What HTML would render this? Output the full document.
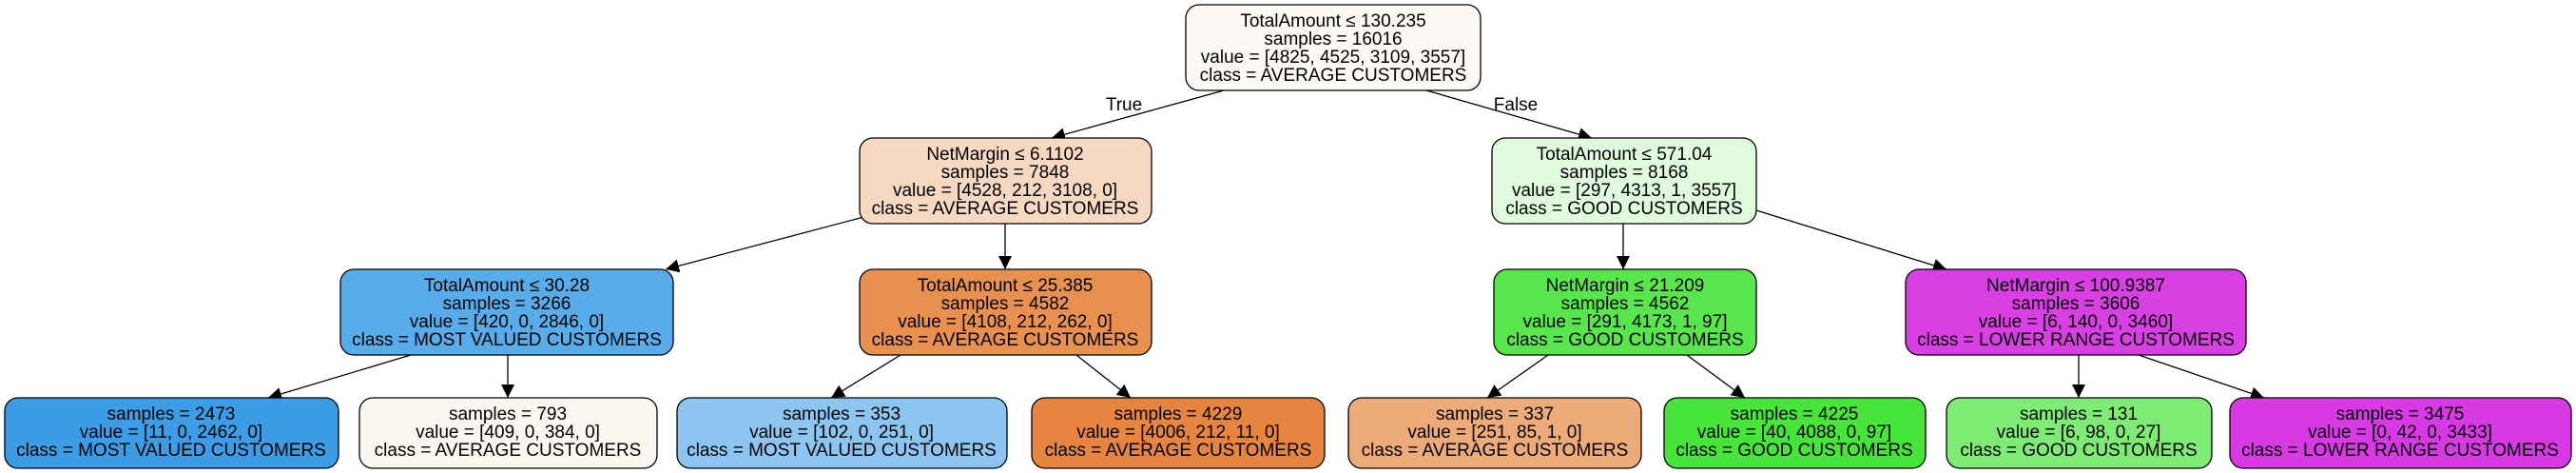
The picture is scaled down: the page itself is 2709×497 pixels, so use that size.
<!DOCTYPE html>
<html><head><meta charset="utf-8"><style>
html,body{margin:0;padding:0;background:#fff}
svg{display:block}
text{font-family:"Liberation Sans",Arial,sans-serif;font-size:19px;fill:#000}
</style></head><body>
<svg width="2709" height="497" viewBox="0 0 2709 497" xmlns="http://www.w3.org/2000/svg">
<defs><marker id="a" viewBox="0 0 10 10" refX="10" refY="5" markerWidth="14" markerHeight="14" markerUnits="userSpaceOnUse" orient="auto"><path d="M0,0 L10,5 L0,10 z" fill="#000"/></marker></defs>
<g stroke="#000" stroke-width="1.3" fill="none" marker-end="url(#a)">
<line x1="1287" y1="95" x2="1106" y2="145"/>
<line x1="1500" y1="95" x2="1674" y2="145"/>
<line x1="916" y1="226" x2="700" y2="283"/>
<line x1="1057" y1="235" x2="1057" y2="283"/>
<line x1="1707" y1="235" x2="1707" y2="283"/>
<line x1="1847" y1="221" x2="2047" y2="283"/>
<line x1="432" y1="373" x2="282" y2="418"/>
<line x1="534" y1="373" x2="534" y2="418"/>
<line x1="947" y1="373" x2="874" y2="418"/>
<line x1="1132" y1="373" x2="1189" y2="418"/>
<line x1="1628" y1="373" x2="1564" y2="418"/>
<line x1="1774" y1="373" x2="1835" y2="418"/>
<line x1="2186" y1="373" x2="2186" y2="418"/>
<line x1="2249" y1="373" x2="2381" y2="418"/>
</g>
<text x="1182" y="116" text-anchor="middle">True</text>
<text x="1594" y="116" text-anchor="middle">False</text>
<g stroke="#000" stroke-width="1.3">
<rect x="1247" y="5" width="310" height="90" rx="14" fill="#fdf9f6"/>
<rect x="904" y="145" width="307" height="90" rx="14" fill="#f7d8c0"/>
<rect x="1569" y="145" width="278" height="90" rx="14" fill="#e0fadd"/>
<rect x="358" y="283" width="350" height="90" rx="14" fill="#57ace9"/>
<rect x="904" y="283" width="307" height="90" rx="14" fill="#e89050"/>
<rect x="1571" y="283" width="276" height="90" rx="14" fill="#58e64c"/>
<rect x="2004" y="283" width="358" height="90" rx="14" fill="#d840e3"/>
<rect x="5" y="418" width="351" height="74" rx="14" fill="#3c9ce5"/>
<rect x="378" y="418" width="313" height="74" rx="14" fill="#fcf6f0"/>
<rect x="712" y="418" width="347" height="74" rx="14" fill="#8bc5f0"/>
<rect x="1085" y="418" width="308" height="74" rx="14" fill="#e6853f"/>
<rect x="1418" y="418" width="308" height="74" rx="14" fill="#eeab7a"/>
<rect x="1750" y="418" width="275" height="74" rx="14" fill="#47e43a"/>
<rect x="2047" y="418" width="279" height="74" rx="14" fill="#7deb74"/>
<rect x="2345" y="418" width="359" height="74" rx="14" fill="#d73ae4"/>
</g>
<g text-anchor="middle">
<text x="1402" y="28">TotalAmount ≤ 130.235</text><text x="1402" y="47">samples = 16016</text><text x="1402" y="66">value = [4825, 4525, 3109, 3557]</text><text x="1402" y="85">class = AVERAGE CUSTOMERS</text>
<text x="1057" y="168">NetMargin ≤ 6.1102</text><text x="1057" y="187">samples = 7848</text><text x="1057" y="206">value = [4528, 212, 3108, 0]</text><text x="1057" y="225">class = AVERAGE CUSTOMERS</text>
<text x="1708" y="168">TotalAmount ≤ 571.04</text><text x="1708" y="187">samples = 8168</text><text x="1708" y="206">value = [297, 4313, 1, 3557]</text><text x="1708" y="225">class = GOOD CUSTOMERS</text>
<text x="533" y="306">TotalAmount ≤ 30.28</text><text x="533" y="325">samples = 3266</text><text x="533" y="344">value = [420, 0, 2846, 0]</text><text x="533" y="363">class = MOST VALUED CUSTOMERS</text>
<text x="1057" y="306">TotalAmount ≤ 25.385</text><text x="1057" y="325">samples = 4582</text><text x="1057" y="344">value = [4108, 212, 262, 0]</text><text x="1057" y="363">class = AVERAGE CUSTOMERS</text>
<text x="1709" y="306">NetMargin ≤ 21.209</text><text x="1709" y="325">samples = 4562</text><text x="1709" y="344">value = [291, 4173, 1, 97]</text><text x="1709" y="363">class = GOOD CUSTOMERS</text>
<text x="2183" y="306">NetMargin ≤ 100.9387</text><text x="2183" y="325">samples = 3606</text><text x="2183" y="344">value = [6, 140, 0, 3460]</text><text x="2183" y="363">class = LOWER RANGE CUSTOMERS</text>
<text x="180" y="441">samples = 2473</text><text x="180" y="460">value = [11, 0, 2462, 0]</text><text x="180" y="479">class = MOST VALUED CUSTOMERS</text>
<text x="534" y="441">samples = 793</text><text x="534" y="460">value = [409, 0, 384, 0]</text><text x="534" y="479">class = AVERAGE CUSTOMERS</text>
<text x="885" y="441">samples = 353</text><text x="885" y="460">value = [102, 0, 251, 0]</text><text x="885" y="479">class = MOST VALUED CUSTOMERS</text>
<text x="1239" y="441">samples = 4229</text><text x="1239" y="460">value = [4006, 212, 11, 0]</text><text x="1239" y="479">class = AVERAGE CUSTOMERS</text>
<text x="1572" y="441">samples = 337</text><text x="1572" y="460">value = [251, 85, 1, 0]</text><text x="1572" y="479">class = AVERAGE CUSTOMERS</text>
<text x="1887" y="441">samples = 4225</text><text x="1887" y="460">value = [40, 4088, 0, 97]</text><text x="1887" y="479">class = GOOD CUSTOMERS</text>
<text x="2186" y="441">samples = 131</text><text x="2186" y="460">value = [6, 98, 0, 27]</text><text x="2186" y="479">class = GOOD CUSTOMERS</text>
<text x="2524" y="441">samples = 3475</text><text x="2524" y="460">value = [0, 42, 0, 3433]</text><text x="2524" y="479">class = LOWER RANGE CUSTOMERS</text>
</g>
</svg>
</body></html>
